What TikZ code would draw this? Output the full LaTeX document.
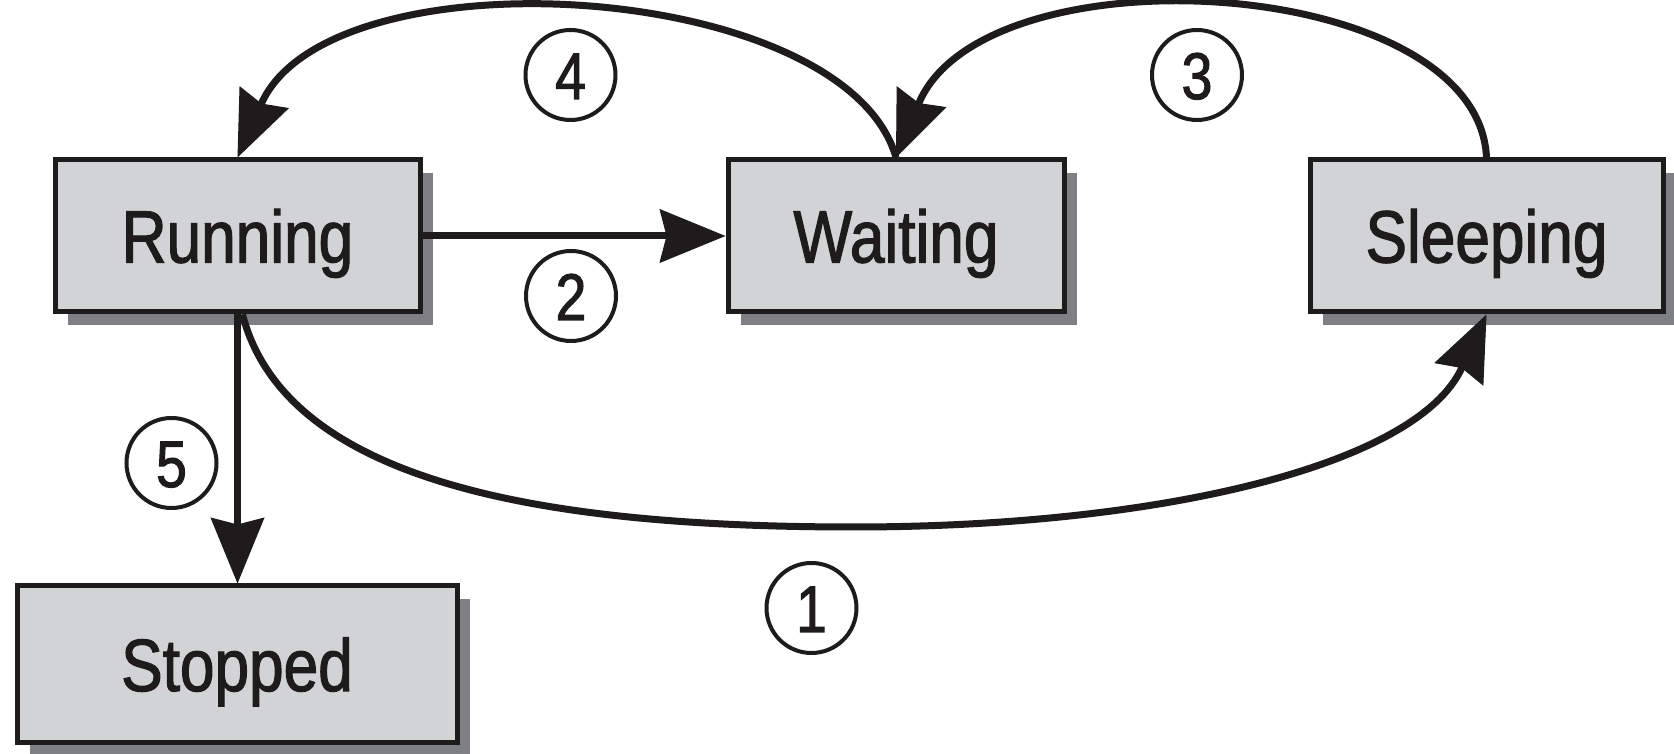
\documentclass[tikz,border=0pt]{standalone}
\usepackage{fontspec}
\setmainfont{Liberation Sans}[FakeStretch=0.84, FakeBold=1.6]
\usetikzlibrary{arrows.meta,shadows}

\definecolor{boxfill}{HTML}{D2D3D5}
\definecolor{boxshade}{HTML}{7E8083}
\definecolor{ink}{HTML}{1E1B1C}

\begin{document}
\begin{tikzpicture}[x=1pt,y=1pt,
  state/.style={rectangle, draw=ink, line width=5pt, fill=boxfill,
    minimum height=152pt, inner sep=0pt, text=ink,
    font=\fontsize{74}{80}\selectfont, text height=53pt, text depth=0pt,
    drop shadow={shadow xshift=13pt, shadow yshift=-13pt, fill=boxshade, opacity=1}},
  num/.style={circle, draw=ink, line width=4pt, minimum size=90pt, inner sep=0pt,
    text=ink, font=\fontsize{66}{70}\selectfont, text height=48pt, text depth=0pt},
  flow/.style={draw=ink, line width=7pt,
    -{Stealth[length=66pt, width=54pt, inset=7pt, line width=1pt]}}
]
\useasboundingbox (0,0) rectangle (1674,754);

% process states
\node[state, minimum width=365pt] (run)   at (237.5,518) {Running};
\node[state, minimum width=336pt] (wait)  at (896,518)   {Waiting};
\node[state, minimum width=353pt] (sleep) at (1486.5,518) {Sleeping};
\node[state, minimum width=440pt, minimum height=157pt] (stop) at (237,89.5) {Stopped};

% transition numbers
\node[num] (n4) at (570.5,679) {4};
\node[num] (n3) at (1197,679)  {3};
\node[num] (n2) at (571,458)   {2};
\node[num] (n5) at (171.5,291) {5};
\node[num] (n1) at (811.5,146) {1};

% transitions
\coordinate (low) at (854,227);
\coordinate (runout) at ([xshift=5pt]run.south);
\draw[flow] (run.east) -- (wait.west);
\draw[flow] (wait.north) .. controls (845,775) and (330,805) .. (run.north);
\draw[flow] (sleep.north) .. controls (1478,780) and (985,808) .. (wait.north);
\draw[flow] (runout) .. controls (287,268) and (554,227) .. (low)
                     .. controls (1154,227) and (1416,287) .. (sleep.south);
\draw[flow] (run.south) -- (run.south |- stop.north);
\end{tikzpicture}
\end{document}
